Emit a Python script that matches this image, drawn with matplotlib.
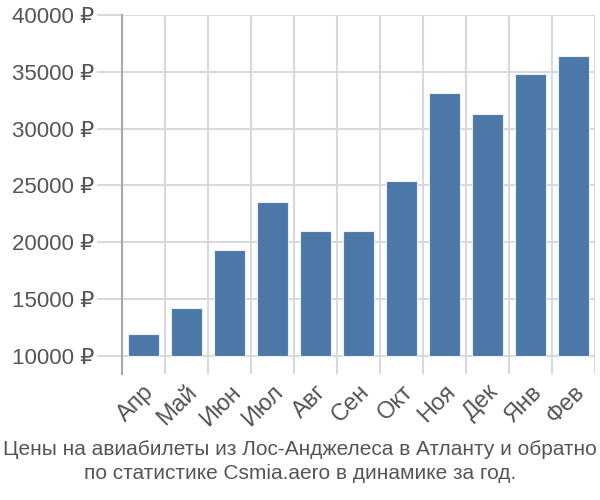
import matplotlib
matplotlib.use("Agg")
import matplotlib.pyplot as plt
import numpy as np

# месяцы и цены (руб.)
months = ["Апр", "Май", "Июн", "Июл", "Авг", "Сен", "Окт", "Ноя", "Дек", "Янв", "Фев"]
prices = [11900, 14200, 19300, 23500, 20950, 20950, 25350, 33100, 31250, 34850, 36350]
yticks = [10000, 15000, 20000, 25000, 30000, 35000, 40000]
title = "Цены на авиабилеты из Лос-Анджелеса в Атланту и обратно\nпо статистике Csmia.aero в динамике за год."

plt.rcParams['font.family'] = ['Liberation Sans', 'DejaVu Sans']

fig = plt.figure(figsize=(6, 5), dpi=100)
ax = fig.add_axes([0.203, 0.252, 0.789, 0.718])

x = np.arange(len(months))
base = 10000
ax.bar(x, [p - base for p in prices], 0.72, bottom=base,
       color="#4c78a8", edgecolor="#e8eef5", linewidth=0.8, zorder=3)

ax.set_xlim(-0.5, len(months) - 0.5)
ax.set_ylim(8400, 40000)
ax.set_yticks(yticks)
ax.set_yticklabels([f"{v} ₽" for v in yticks])
ax.set_xticks(x)
ax.set_xticklabels(months, rotation=45, ha="right", rotation_mode="anchor")

# вертикальная сетка по границам категорий
ax.set_xticks(np.arange(len(months) + 1) - 0.5, minor=True)
ax.grid(True, which="minor", axis="x", color="#d9d9d9", linewidth=1.5, zorder=0)
ax.grid(True, which="major", axis="y", color="#d9d9d9", linewidth=1.5, zorder=0)
ax.tick_params(axis="x", which="both", length=0, labelsize=17, colors="#555555", pad=5)
ax.tick_params(axis="y", length=18, width=1.5, color="#d9d9d9", labelsize=16, labelcolor="#555555", pad=2)

for s in ["top", "right", "bottom"]:
    ax.spines[s].set_visible(False)
ax.spines["left"].set_color("#aaaaaa")
ax.spines["left"].set_linewidth(1.5)

fig.text(0.5, 0.077, title, ha="center", va="center", fontsize=15, color="#555555",
         linespacing=1.38)

fig.savefig("out.png", dpi=100)
